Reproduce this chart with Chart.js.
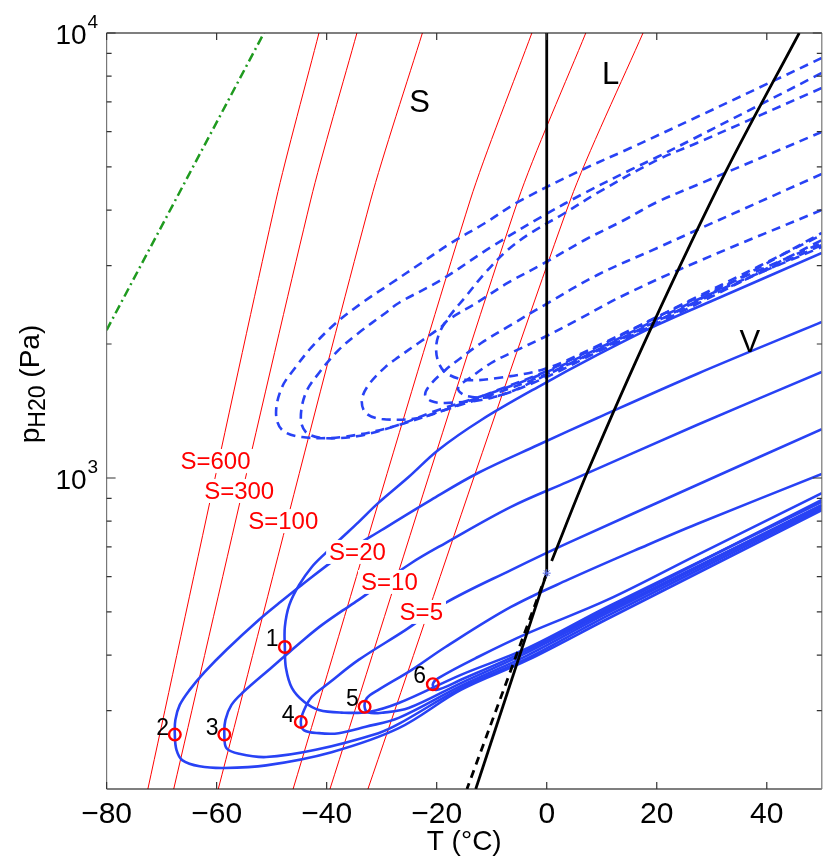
<!DOCTYPE html>
<html>
<head>
<meta charset="utf-8">
<script src="https://cdn.jsdelivr.net/npm/chart.js@4.4.0/dist/chart.umd.min.js"></script>
<style>
  html, body { margin: 0; padding: 0; background: #fff; }
  #wrap { width: 830px; height: 860px; }
</style>
</head>
<body>
<div id="wrap"><canvas id="chart" width="830" height="860"></canvas></div>
<script>
// Eixos
const xMin = -80, xMax = 50;
const yMin = 200, yMax = 10000;
const xTicks = [-80, -60, -40, -20, 0, 20, 40];
const yMajor = [1000, 10000];
const yMinor = [300, 400, 500, 600, 700, 800, 900, 2000, 3000, 4000, 5000, 6000, 7000, 8000, 9000];

// Isolinhas de supersaturação (vermelho): T em p = 200, 4215 e 10000 Pa
const sPress = [200, 4215, 10000];
const sLowT = [-72.5, -67.8, -59.7, -46.1, -39.4, -32.5];
const sMidT = [-49.2, -42.9, -32.0, -13.9, -5.2, 4.3];
const sTopT = [-41.4, -34.5, -22.6, -2.7, 7.1, 17.5];
const sLabels = ['S=600', 'S=300', 'S=100', 'S=20', 'S=10', 'S=5'];
const sLabelT = [-60.2, -55.9, -47.9, -34.4, -28.6, -22.8];
const sLabelP = [1092, 935, 800, 682, 584, 500];

// Linha verde traço-ponto
const gT = [-80, -51.4];
const gP = [2150, 10000];

// Linhas de fase (preto)
const meltT = [0, 0], meltP = [611, 10000];
const iceT = [0, -12.9], iceP = [611, 200];
const superT = [0, -14.5], superP = [611, 200];
const liqT = [0.9, 7.4, 18.8, 32.7, 45.9];
const liqP = [651, 1031, 2150, 4923, 10000];
const tripleT = [0], tripleP = [611];

// Trajetórias (azul contínuo): ramo superior -> ponto inicial -> ramo inferior
const c1T = [50, 30.4, 20.1, 9.2, -1.6, -11.9, -19.7, -25.1, -30.6, -34.2, -37.3, -40.2, -42.7, -45.0, -46.8, -47.6, -47.6, -47.4, -46.3, -44.1, -41.4, -37.3, -32.4, -26.9, -15.6, -3.4, 11.0, 50];
const c1P = [3204, 2512, 2208, 1890, 1601, 1350, 1156, 1005, 879, 796, 733, 678, 631, 575, 518, 463, 417, 374, 337, 314, 301, 297, 298, 312, 361, 415, 513, 883];
const c2T = [50, 27.3, 9.2, -1.6, -12.5, -21.0, -30.0, -37.8, -45.0, -48.6, -52.3, -58.2, -62.2, -64.9, -66.7, -67.5, -67.6, -67.3, -66.2, -63.1, -58.6, -51.0, -39.1, -26.9, -15.6, -3.4, 11.0, 50];
const c2P = [2242, 1713, 1364, 1186, 1026, 893, 764, 665, 569, 524, 480, 411, 366, 334, 309, 286, 265, 245, 232, 225, 223, 226, 242, 274, 334, 390, 482, 847];
const c3T = [50, 27.3, 3.8, -6.5, -18.4, -24.6, -34.2, -37.8, -40.9, -43.8, -46.8, -49.9, -55.3, -57.3, -58.4, -58.6, -58.2, -55.9, -51.0, -42.0, -30.6, -26.9, -15.6, -3.4, 11.0, 50];
const c3P = [1731, 1315, 980, 861, 714, 644, 532, 497, 467, 437, 406, 376, 329, 309, 286, 265, 247, 240, 236, 245, 267, 280, 337, 394, 490, 856];
const c4T = [50, 27.3, 3.8, -6.5, -18.4, -25.7, -34.2, -39.6, -42.7, -44.1, -44.7, -44.1, -41.4, -37.8, -32.9, -26.9, -15.6, -3.4, 11.0, 50];
const c4P = [1288, 964, 714, 621, 524, 455, 390, 346, 322, 301, 283, 271, 267, 267, 276, 289, 341, 400, 497, 865];
const c5T = [50, 27.3, 18.3, 3.8, -6.5, -18.4, -24.6, -30.6, -32.7, -33.1, -32.4, -29.7, -25.1, -15.6, -3.4, 11.0, 50];
const c5P = [1021, 788, 707, 590, 513, 417, 370, 334, 320, 306, 297, 297, 304, 346, 406, 502, 870];
const c6T = [50, 27.3, 11.0, -3.4, -12.5, -19.7, -20.7, -20.1, -15.6, -3.4, 11.0, 50];
const c6P = [925, 671, 532, 448, 396, 355, 344, 334, 352, 411, 507, 893];

// Trajetórias (azul tracejado)
const d1T = [50, 27.3, 15.2, 5.6, -5.2, -11.2, -17.4, -22.8, -28.2, -33.6, -38.3, -42.7, -45.6, -48.1, -49.2, -48.1, -44.5, -37.3, -28.2, -19.7, -10.1, -0.4, 9.2, 27.3, 50];
const d1P = [8786, 6474, 5514, 4872, 4171, 3741, 3374, 3042, 2743, 2473, 2231, 1970, 1777, 1601, 1400, 1282, 1236, 1236, 1302, 1422, 1552, 1722, 1950, 2512, 3305];
const d2T = [50, 27.3, 20.1, 15.2, 6.9, -0.4, -10.1, -19.2, -26.9, -29.3, -34.2, -37.8, -41.4, -43.8, -44.7, -43.8, -40.9, -34.2, -26.9, -19.7, -10.1, -0.4, 9.2, 27.3, 50];
const d2P = [8130, 5838, 5265, 4923, 4371, 3899, 3305, 2786, 2473, 2349, 2118, 1940, 1722, 1552, 1364, 1269, 1230, 1243, 1315, 1407, 1537, 1704, 1930, 2486, 3339];
const d3T = [50, 27.3, 20.1, 14.1, 6.9, -0.4, -7.1, -12.5, -17.9, -19.2, -23.3, -26.9, -29.3, -32.4, -33.6, -32.9, -30.0, -23.3, -16.1, -8.9, -0.4, 9.2, 27.3, 50];
const d3P = [5993, 4554, 4171, 3800, 3426, 3042, 2743, 2486, 2266, 2185, 2011, 1871, 1777, 1618, 1497, 1400, 1357, 1364, 1459, 1576, 1731, 1970, 2538, 3374];
const d4T = [50, 27.3, 20.1, 9.2, -0.4, -7.1, -11.9, -16.1, -18.4, -21.2, -22.1, -21.0, -18.4, -10.1, -0.4, 9.2, 27.3, 50];
const d4P = [4822, 3609, 3288, 2859, 2447, 2185, 2011, 1842, 1749, 1618, 1537, 1489, 1474, 1513, 1678, 1919, 2460, 3426];
const d5T = [50, 27.3, 20.1, 9.2, 3.3, -2.9, -7.1, -11.2, -14.8, -17.9, -19.5, -20.1, -19.7, -18.3, -14.8, -8.9, -0.4, 9.2, 27.3, 50];
const d5P = [7522, 5659, 5184, 4371, 3940, 3553, 3254, 2889, 2551, 2289, 2118, 1970, 1823, 1722, 1661, 1678, 1758, 1980, 2551, 3517];
const d6T = [50, 27.3, 14.1, 5.6, -0.4, -6.5, -10.1, -13.7, -16.1, -14.6, -8.9, -0.4, 9.2, 27.3, 50];
const d6P = [4002, 3058, 2578, 2266, 2074, 1910, 1813, 1687, 1593, 1529, 1529, 1696, 1940, 2499, 3553];

// Pontos iniciais
const startLabels = ['1', '2', '3', '4', '5', '6'];
const startT = [-47.6, -67.6, -58.6, -44.7, -33.1, -20.7];
const startP = [417, 265, 265, 283, 306, 344];
const numT = [-49.9, -69.8, -60.8, -47.0, -35.3, -23.1];
const numP = [433, 274, 274, 293, 317, 357];

// Rótulos das regiões
const regionLabels = ['S', 'L', 'V'];
const regionT = [-23.1, 11.6, 36.9];
const regionP = [6962, 8046, 2011];

const FONT = '"Liberation Sans", Arial, Helvetica, sans-serif';
const BLUE = 'rgb(40,66,245)';

function pts(T, P) {
    return T.map((t, i) => ({ x: t, y: P[i] }));
}

function line(T, P, color, width, dash, order, tension) {
    return {
        type: 'line',
        data: pts(T, P),
        borderColor: color,
        borderWidth: width,
        borderDash: dash || [],
        pointRadius: 0,
        tension: tension || 0,
        fill: false,
        clip: 0,
        order: order
    };
}

const datasets = [];

// Linhas vermelhas
sLowT.forEach((t, i) => {
    datasets.push(line([t, sMidT[i], sTopT[i]], sPress, '#ff0000', 1, null, 60, 0.25));
});

// Linha verde
datasets.push(line(gT, gP, '#1f9a1f', 2.5, [9, 4, 2, 4], 50));

// Tracejadas azuis
[[d1T, d1P], [d2T, d2P], [d3T, d3P], [d4T, d4P], [d5T, d5P], [d6T, d6P]].forEach(c => {
    datasets.push(line(c[0], c[1], BLUE, 2.6, [9, 6], 40, 0.35));
});

// Contínuas azuis
[[c1T, c1P], [c2T, c2P], [c3T, c3P], [c4T, c4P], [c5T, c5P], [c6T, c6P]].forEach(c => {
    datasets.push(line(c[0], c[1], BLUE, 2.6, null, 30, 0.35));
});

// Linhas pretas
datasets.push(line(meltT, meltP, '#000', 2.8, null, 20));
datasets.push(line(iceT, iceP, '#000', 2.8, null, 20));
datasets.push(line(superT, superP, '#000', 2.8, [8, 6], 20));
datasets.push(line(liqT, liqP, '#000', 2.8, null, 20, 0.3));

// Ponto triplo
datasets.push({
    type: 'scatter',
    data: pts(tripleT, tripleP),
    pointStyle: 'star',
    pointRadius: 4,
    borderColor: 'rgb(90,110,240)',
    borderWidth: 1,
    clip: 0,
    order: 15
});

// Círculos vermelhos
datasets.push({
    type: 'scatter',
    data: pts(startT, startP),
    pointStyle: 'circle',
    pointRadius: 5.8,
    pointBorderWidth: 2.4,
    pointBorderColor: '#ff0000',
    pointBackgroundColor: 'rgba(0,0,0,0)',
    clip: 0,
    order: 10
});

// Plugin: moldura, marcas, textos
const decor = {
    id: 'decor',
    afterDatasetsDraw(chart) {
        const { ctx, chartArea: a, scales: { x, y } } = chart;
        ctx.save();

        // Rótulos S=...
        ctx.font = '24px ' + FONT;
        ctx.textAlign = 'center';
        ctx.textBaseline = 'middle';
        sLabels.forEach((t, i) => {
            const px = x.getPixelForValue(sLabelT[i]);
            const py = y.getPixelForValue(sLabelP[i]);
            const w = ctx.measureText(t).width;
            ctx.fillStyle = '#fff';
            ctx.fillRect(px - w / 2 - 3, py - 12, w + 6, 24);
            ctx.fillStyle = '#ff0000';
            ctx.fillText(t, px, py + 1);
        });

        // Números
        ctx.font = '23px ' + FONT;
        ctx.fillStyle = '#000';
        startLabels.forEach((t, i) => {
            ctx.fillText(t, x.getPixelForValue(numT[i]), y.getPixelForValue(numP[i]));
        });

        // S, L, V
        ctx.font = '31px ' + FONT;
        regionLabels.forEach((t, i) => {
            ctx.fillText(t, x.getPixelForValue(regionT[i]), y.getPixelForValue(regionP[i]));
        });

        // Moldura
        ctx.lineWidth = 1.2;
        ctx.strokeStyle = '#000';
        ctx.beginPath();
        ctx.moveTo(a.left, a.top); ctx.lineTo(a.right, a.top);
        ctx.moveTo(a.left, a.bottom); ctx.lineTo(a.right, a.bottom);
        ctx.stroke();
        ctx.strokeStyle = '#777';
        ctx.beginPath();
        ctx.moveTo(a.left, a.top); ctx.lineTo(a.left, a.bottom);
        ctx.moveTo(a.right, a.top); ctx.lineTo(a.right, a.bottom);
        ctx.stroke();

        // Marcas do eixo x
        ctx.strokeStyle = '#333';
        ctx.beginPath();
        xTicks.forEach(v => {
            const px = x.getPixelForValue(v);
            ctx.moveTo(px, a.bottom); ctx.lineTo(px, a.bottom - 7);
            ctx.moveTo(px, a.top); ctx.lineTo(px, a.top + 7);
        });
        // Marcas do eixo y
        yMajor.forEach(v => {
            const py = y.getPixelForValue(v);
            ctx.moveTo(a.left, py); ctx.lineTo(a.left + 9, py);
            ctx.moveTo(a.right, py); ctx.lineTo(a.right - 9, py);
        });
        yMinor.forEach(v => {
            const py = y.getPixelForValue(v);
            ctx.moveTo(a.left, py); ctx.lineTo(a.left + 5, py);
            ctx.moveTo(a.right, py); ctx.lineTo(a.right - 5, py);
        });
        ctx.stroke();

        // Rótulos do eixo x
        ctx.fillStyle = '#000';
        ctx.font = '30px ' + FONT;
        ctx.textAlign = 'center';
        ctx.textBaseline = 'alphabetic';
        xTicks.forEach(v => {
            const s = v < 0 ? '\u2212' + Math.abs(v) : String(v);
            ctx.fillText(s, x.getPixelForValue(v), a.bottom + 34);
        });

        // Rótulos do eixo y (10^n)
        yMajor.forEach(v => {
            const py = y.getPixelForValue(v);
            ctx.font = '28px ' + FONT;
            ctx.textAlign = 'right';
            ctx.fillText('10', a.left - 20, py + 11);
            ctx.font = '19px ' + FONT;
            ctx.textAlign = 'left';
            ctx.fillText(String(Math.round(Math.log10(v))), a.left - 19, py - 5);
        });

        // Título do eixo x
        ctx.font = '28px ' + FONT;
        ctx.textAlign = 'center';
        ctx.fillText('T (\u00B0C)', (a.left + a.right) / 2, a.bottom + 61);

        // Título do eixo y
        ctx.translate(39, 384);
        ctx.rotate(-Math.PI / 2);
        const big = '28px ' + FONT, small = '23px ' + FONT;
        ctx.font = big; const w1 = ctx.measureText('p').width;
        ctx.font = small; const w2 = ctx.measureText('H20').width;
        ctx.font = big; const w3 = ctx.measureText(' (Pa)').width;
        let sx = -(w1 + w2 + w3) / 2;
        ctx.textAlign = 'left';
        ctx.font = big; ctx.fillText('p', sx, 0); sx += w1;
        ctx.font = small; ctx.fillText('H20', sx, 6); sx += w2;
        ctx.font = big; ctx.fillText(' (Pa)', sx, 0);

        ctx.restore();
    }
};

new Chart(document.getElementById('chart'), {
    data: { datasets: datasets },
    options: {
        responsive: false,
        animation: false,
        layout: { padding: { left: 106.6, right: 4.5, top: 33, bottom: 71 } },
        plugins: { legend: { display: false }, tooltip: { enabled: false } },
        scales: {
            x: { type: 'linear', min: xMin, max: xMax, display: false },
            y: { type: 'logarithmic', min: yMin, max: yMax, display: false }
        }
    },
    plugins: [decor]
});
</script>
</body>
</html>
